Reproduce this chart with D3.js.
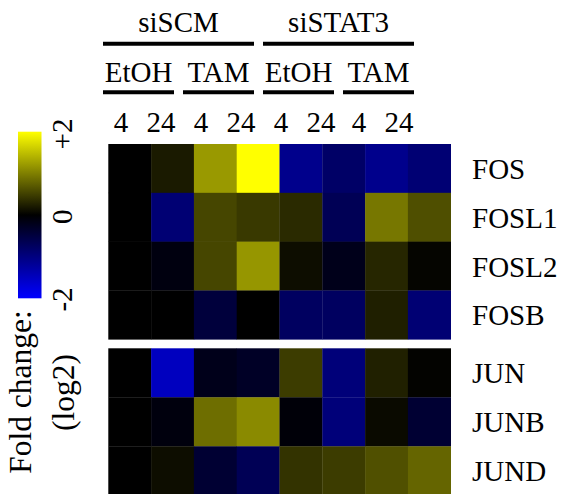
<!DOCTYPE html>
<html><head><meta charset="utf-8"><script src="https://cdn.jsdelivr.net/npm/d3@7"></script></head>
<body style="margin:0">
<svg id="chart" width="565" height="494"></svg>
<script>
// ---- data ----
const groups = ["siSCM", "siSTAT3"];
const treatments = ["EtOH", "TAM", "EtOH", "TAM"];
const timepoints = ["4", "24", "4", "24", "4", "24", "4", "24"];
const genesTop = ["FOS", "FOSL1", "FOSL2", "FOSB"];
const genesBottom = ["JUN", "JUNB", "JUND"];
const legendTicks = [2, 0, -2];
const legendTickLabels = ["+2", "0", "-2"];

// log2 fold change per gene, one value per column
const FOS   = [0, 0.2, 1.2, 2.0, -1.1, -0.8, -1.1, -0.9];
const FOSL1 = [0, -0.9, 0.55, 0.45, 0.33, -0.67, 0.93, 0.62];
const FOSL2 = [0, -0.12, 0.55, 1.18, 0.1, -0.2, 0.3, 0.04];
const FOSB  = [0, 0, -0.47, 0, -0.75, -0.75, 0.24, -0.9];
const JUN   = [0, -1.5, -0.2, -0.3, 0.47, -0.95, 0.25, 0.02];
const JUNB  = [0, -0.1, 0.86, 1.08, -0.06, -0.95, 0.08, -0.4];
const JUND  = [0, 0.1, -0.4, -0.67, 0.4, 0.47, 0.63, 0.79];

const topValues = [FOS, FOSL1, FOSL2, FOSB];
const bottomValues = [JUN, JUNB, JUND];

// ---- drawing ----
const svg = d3.select("#chart");
const FS = 29;

const color = d3.scaleLinear()
  .domain([-2, 0, 2])
  .range(["#0000ff", "#000000", "#ffff00"])
  .clamp(true);

const cols = d3.range(timepoints.length);
const x = d3.scaleBand().domain(cols).range([108.3, 450.7]).padding(0);

const labels = [];

function panel(genes, values, y0, y1) {
  const y = d3.scaleBand().domain(genes).range([y0, y1]).padding(0);
  const g = svg.append("g");
  genes.forEach((gene, r) => {
    g.selectAll(null)
      .data(values[r])
      .enter()
      .append("rect")
      .attr("x", (d, i) => x(i))
      .attr("y", y(gene))
      .attr("width", x.bandwidth() + 0.3)
      .attr("height", y.bandwidth() + 0.3)
      .attr("fill", d => color(d));
    labels.push({ t: gene, x: 472, y: y(gene) + y.bandwidth() / 2 + 10.5, a: "start", r: 0, fs: FS });
  });
}
panel(genesTop, topValues, 144, 339.3);
panel(genesBottom, bottomValues, 348.3, 495.3);

// ---- header ----
const hx = d3.scaleLinear().domain([0, 8]).range([103, 423]);

groups.forEach((name, gi) => {
  const a = hx(gi * 4), b = hx(gi * 4 + 4) - 9;
  svg.append("line").attr("x1", a).attr("x2", b).attr("y1", 43.7).attr("y2", 43.7)
    .attr("stroke", "#000").attr("stroke-width", 4);
  labels.push({ t: name, x: (a + b) / 2, y: 32, a: "middle", r: 0, fs: FS });
});
treatments.forEach((name, ti) => {
  const a = hx(ti * 2), b = hx(ti * 2 + 2) - 9;
  svg.append("line").attr("x1", a).attr("x2", b).attr("y1", 92.2).attr("y2", 92.2)
    .attr("stroke", "#000").attr("stroke-width", 4);
  labels.push({ t: name, x: (a + b) / 2, y: 81.7, a: "middle", r: 0, fs: FS });
});
timepoints.forEach((t, i) => {
  labels.push({ t: t, x: hx(i) + 18 - (i >= 6 ? 2 : 0), y: 131.7, a: "middle", r: 0, fs: FS });
});

// ---- legend ----
const defs = svg.append("defs");
const grad = defs.append("linearGradient").attr("id", "lg")
  .attr("x1", 0).attr("y1", 1).attr("x2", 0).attr("y2", 0);
[-2, 0, 2].forEach(v => {
  grad.append("stop").attr("offset", (v + 2) / 4).attr("stop-color", color(v));
});
svg.append("rect").attr("x", 18).attr("y", 131.7).attr("width", 23.5).attr("height", 166.6)
  .attr("fill", "url(#lg)");

const ly = d3.scaleLinear().domain([2, -2]).range([134, 299.5]);
legendTicks.forEach((v, i) => {
  labels.push({ t: legendTickLabels[i], x: 72, y: ly(v), a: "middle", r: -90, fs: FS });
});
labels.push({ t: "Fold change:", x: 31, y: 392, a: "middle", r: -90, fs: 31.5 });
labels.push({ t: "(log2)", x: 73.5, y: 392.5, a: "middle", r: -90, fs: 31.5 });

svg.selectAll("text").data(labels).enter().append("text")
  .attr("transform", d => `translate(${d.x},${d.y}) rotate(${d.r})`)
  .attr("text-anchor", d => d.a)
  .style("font", d => `normal 400 ${d.fs}px "Liberation Serif", "Tinos", "FreeSerif", serif`)
  .text(d => d.t);
</script>
</body>
</html>
